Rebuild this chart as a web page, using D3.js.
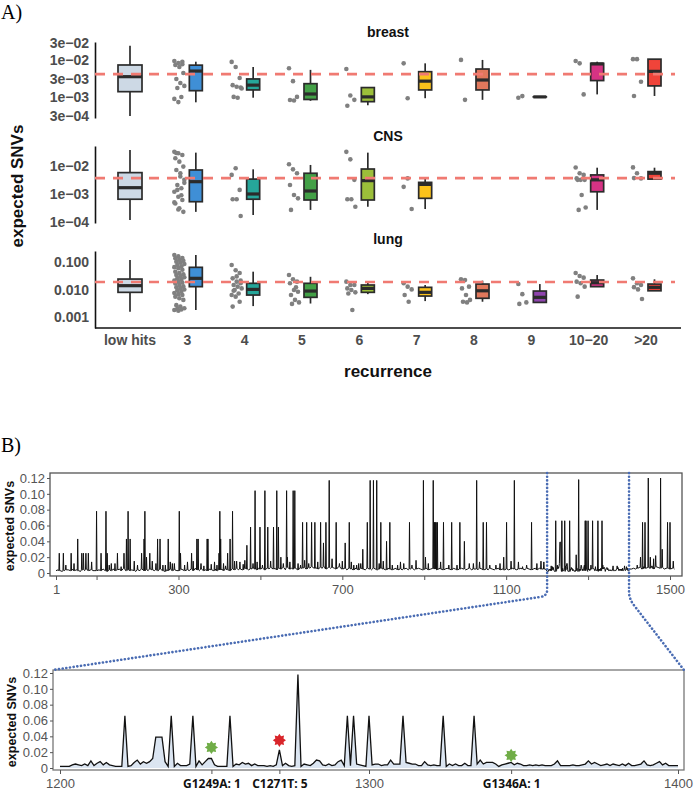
<!DOCTYPE html>
<html>
<head>
<meta charset="utf-8">
<script src="https://cdn.jsdelivr.net/npm/d3@7"></script>
<style>
body{margin:0;background:#fff}
svg{display:block}
</style>
</head>
<body>
<script>
// ---------- panel A data ----------
const categories = ["low hits","3","4","5","6","7","8","9","10\u221220",">20"];
const catColors = ["#cdd9e5","#3f8fd6","#26a69a","#43a047","#9cbf3a","#fbc21b","#e0785c","#8e44ad","#d63384","#f0443a"];
const tissues = ["breast","CNS","lung"];
const thresholds = [0.0042, 0.0037, 0.0187];

// box stats: [lower whisker, q1, median, q3, upper whisker]
const breastBoxes = [
  [0.0003,0.00139,0.00358,0.00748,0.0253],
  [0.00071,0.00148,0.0051,0.0074,0.0092],
  [0.00095,0.00155,0.0021,0.0031,0.0066],
  [0.00078,0.00085,0.0012,0.0023,0.0055],
  [0.00059,0.00074,0.001,0.0018,0.0018],
  [0.00092,0.00155,0.0027,0.0049,0.0083],
  [0.00083,0.00155,0.0029,0.0058,0.0103],
  [0.001,0.001,0.001,0.001,0.001],
  [0.00117,0.0028,0.008,0.0083,0.0092],
  [0.00106,0.002,0.005,0.0108,0.0108]
];
const breastPts = [
  [],
  [0.0096,0.0085,0.0092,0.0075,0.0066,0.0045,0.0031,0.0024,0.002,0.00175,0.00099,0.00088,0.00072,0.0079],
  [0.0091,0.0066,0.0033,0.0021,0.0019,0.0018,0.001,0.00095,0.0017],
  [0.0061,0.0027,0.001,0.00082,0.0008],
  [0.0058,0.00109,0.00083,0.00057],
  [0.0083,0.00092],
  [0.0103,0.00083],
  [0.00095,0.00105],
  [0.0096,0.0083,0.00117],
  [0.0108,0.0108,0.0026,0.00106]
];
const cnsBoxes = [
  [0.000118,0.00065,0.00168,0.0058,0.037],
  [0.00023,0.00053,0.00275,0.0072,0.030],
  [0.000178,0.00065,0.001,0.0034,0.0076],
  [0.00027,0.00061,0.00128,0.0055,0.0109],
  [0.00035,0.00061,0.003,0.0078,0.030],
  [0.00029,0.0007,0.0022,0.0026,0.0036],
  null,
  null,
  [0.00027,0.0012,0.0032,0.0048,0.0087],
  [0.0034,0.0034,0.0055,0.0063,0.0087]
];
const cnsPts = [
  [],
  [0.032,0.0284,0.0247,0.0188,0.0143,0.0095,0.0072,0.0042,0.0032,0.0021,0.0016,0.0012,0.0008,0.00061,0.00046,0.00031,0.00023,0.029,0.0055,0.0025,0.0014,0.0009,0.0005,0.00028],
  [0.0048,0.0083,0.0014,0.00065,0.00065,0.000164],
  [0.0115,0.0076,0.0055,0.0021,0.00092,0.0007,0.00027],
  [0.032,0.0173,0.0032,0.00065,0.00065,0.00035],
  [0.0018,0.0036,0.00029],
  [],
  [],
  [0.0088,0.0055,0.0048,0.0036,0.0032,0.0032,0.0032,0.00092,0.00033,0.00027],
  [0.0089,0.0055,0.0036,0.0037]
];
const lungBoxes = [
  [0.00156,0.0079,0.0138,0.024,0.118],
  [0.0018,0.0127,0.0255,0.064,0.18],
  [0.0025,0.0063,0.0101,0.0168,0.0445],
  [0.0031,0.0052,0.0088,0.0168,0.029],
  [0.0068,0.0079,0.011,0.0146,0.0176],
  [0.0038,0.0058,0.0079,0.012,0.0146],
  [0.0036,0.0048,0.009,0.0158,0.021],
  [0.0034,0.0034,0.0052,0.0088,0.0158],
  [0.0127,0.0127,0.0176,0.0221,0.0336],
  [0.009,0.009,0.012,0.0158,0.0235]
];
const lungPts = [
  [],
  [0.18,0.16,0.14,0.136,0.12,0.11,0.103,0.095,0.085,0.078,0.07,0.065,0.059,0.052,0.0445,0.04,0.036,0.0336,0.03,0.028,0.0255,0.023,0.021,0.0193,0.018,0.0165,0.0146,0.013,0.012,0.011,0.01,0.0093,0.0083,0.0075,0.0068,0.0063,0.0055,0.0048,0.0042,0.0027,0.0024,0.0021,0.002,0.0019,0.0018,0.0017],
  [0.078,0.05,0.04,0.0255,0.0193,0.0168,0.0146,0.0127,0.011,0.0096,0.0072,0.0063,0.0055,0.0036,0.0024,0.03,0.021,0.009],
  [0.0336,0.0235,0.0193,0.0168,0.0096,0.0083,0.0063,0.0042,0.0034,0.003,0.012],
  [0.0193,0.0146,0.0146,0.011,0.0096,0.0079,0.0072,0.0018],
  [0.0168,0.0127,0.0101,0.0063,0.0036],
  [0.0235,0.022,0.0127,0.011,0.0063,0.0042,0.0036,0.0034],
  [0.0158,0.0068,0.0034,0.003],
  [0.04,0.031,0.027,0.0193,0.0168,0.0127,0.0055],
  [0.0255,0.0168,0.0146,0.0122,0.0101,0.0045]
];
const breastTicks = [3e-4,1e-3,3e-3,1e-2,3e-2];
const cnsTicks = [1e-4,1e-3,1e-2];
const lungTicks = [0.001,0.01,0.1];

// ---------- panel B data ----------
// baseline level (x 0.001) sampled every 5 positions, 1..1199 and 1401..1515
const baseBefore = ("34323443534324353433" + "34353243534536343432" + "43534354343532435343" +
  "35434353643534354353" + "45354354645465456546" + "56465756465747565646" +
  "67576867576857676586" + "56465465465465465456" + "54654564545645645654" +
  "56456546545654654565" + "45645546545465456454" + "54565456546545646555").split("").map(Number);
const baseAfter = "55656758676958767566565".split("").map(Number);
// spikes and bumps outside the zoomed window: [position, value x 0.001]
const spikes = [[9,25],[19,25],[25,10],[38,25],[45,12],[54,43],[64,25],[68,25],[74,25],[80,25],[88,14],[100,78],[111,25],[123,78],[126,25],
  [131,10],[136,12],[145,12],[151,25],[160,8],[167,25],[173,43],[177,78],[182,43],[192,15],[200,10],[210,25],[216,43],[218,78],[222,20],
  [230,25],[236,15],[245,12],[249,43],[255,43],[262,10],[268,10],[275,43],[280,14],[285,12],[290,12],[302,78],[305,25],[315,10],[322,14],
  [332,25],[336,15],[345,43],[348,43],[355,12],[362,9],[370,43],[372,43],[380,11],[388,14],[394,10],[399,25],[401,78],[403,43],
  [410,12],[415,9],[420,25],[426,43],[432,78],[437,15],[442,15],[450,14],[458,11],[462,16],[467,35],[476,58],[482,12],
  [487,104],[492,14],[499,58],[505,10],[511,104],[518,58],[525,15],[532,58],[540,104],[544,58],[550,20],[556,12],[564,104],[566,20],
  [572,14],[580,104],[584,104],[592,12],[598,10],[603,64],[608,16],[613,64],[618,12],[625,64],[633,64],[640,14],[647,64],[654,38],
  [660,64],[668,117],[675,18],[685,64],[693,12],[700,15],[707,38],[717,64],[722,14],[728,10],[735,10],[740,12],[745,12],[750,30],
  [761,64],[768,117],[776,117],[784,117],[790,12],[794,64],[800,15],[808,40],[816,64],[822,10],[835,10],[842,14],[850,12],[864,64],
  [870,10],[880,16],[898,117],[903,20],[910,12],[922,117],[925,64],[927,64],[929,64],[932,64],[940,14],[947,64],[960,10],[967,64],
  [980,10],[987,64],[998,40],[1010,12],[1020,12],[1028,117],[1035,14],[1044,64],[1052,64],[1060,10],[1075,10],[1085,12],[1094,20],
  [1101,64],[1112,15],[1120,117],[1130,14],[1140,8],[1150,10],[1162,64],[1175,12],[1185,15],[1192,14],
  [1420,10],[1428,20],[1433,64],[1439,64],[1447,120],[1452,20],[1460,18],[1465,22],[1477,120],[1481,30],[1494,64],[1500,64],[1508,15]];
// zoomed window 1200..1400, one value per position (x 0.001)
const detailStart = 1200;
const detailVals = [2,2,2,2,4,5,4,3,5,3,9,3,6,8,4,7,4,3,2,2,2,66,2,3,7,10,5,8,6,8,
  12,39,39,39,8,2,66,2,6,3,3,3,5,66,2,9,4,8,12,12,4,2,2,2,2,66,2,5,4,7,
  5,6,3,5,3,3,3,2,3,2,4,23,3,6,3,2,3,118,2,5,4,3,6,10,9,4,3,5,3,4,
  8,10,3,66,3,66,5,4,3,2,66,4,5,5,3,4,4,10,5,5,5,66,7,6,5,5,3,3,8,4,
  3,4,3,3,66,2,5,3,5,3,3,6,3,3,66,5,10,5,7,7,7,5,2,4,5,6,7,4,6,5,
  3,3,4,3,4,3,4,3,3,3,5,9,3,3,3,3,4,3,3,4,5,9,5,7,5,3,4,5,3,5,
  4,3,5,3,6,3,3,4,5,9,4,3,4,6,8,4,6,3,3,3,3];
const snvTicks = [0,0.02,0.04,0.06,0.08,0.10,0.12];
const topTicks = [1,100,300,500,700,900,1100,1300,1500];
const topLabels = [1,300,700,1100,1500];
const zoomRange = [1200,1400];
const botTicks = [1200,1249,1271,1300,1346,1400];
const botTickLabels = ["1200","G1249A: 1","C1271T: 5","1300","G1346A: 1","1400"];
const mutPos = [1249,1271,1346];
const mutVal = [0.026,0.035,0.016];
const mutColor = ["#70ad47","#d9252a","#70ad47"];

// ---------- drawing ----------
const font = "'Liberation Sans', Arial, Helvetica, sans-serif";
const svg = d3.select("body").append("svg").attr("width", 694).attr("height", 792);

svg.append("text").attr("x", 1).attr("y", 19).text("A)")
  .style("font-family", "'Liberation Serif', 'DejaVu Serif', serif").style("font-size", "20px");
svg.append("text").attr("x", 1).attr("y", 452).text("B)")
  .style("font-family", "'Liberation Serif', 'DejaVu Serif', serif").style("font-size", "20px");

const xCat = d3.scalePoint().domain(categories).range([130, 646]);
const axX = 95, axRight = 681;

function sciFmt(d){
  let e = Math.floor(Math.log10(d) + 1e-9);
  let m = Math.round(d / Math.pow(10, e));
  return m + "e\u2212" + String(-e).padStart(2, "0");
}

let panels = [
  {name:"breast", domain:[2.64e-4,0.0319], range:[118,42], ticks:breastTicks, fmt:sciFmt, boxes:breastBoxes, pts:breastPts, titleY:37},
  {name:"CNS", domain:[9.2e-5,0.0518], range:[223,146], ticks:cnsTicks, fmt:sciFmt, boxes:cnsBoxes, pts:cnsPts, titleY:141},
  {name:"lung", domain:[4e-4,0.251], range:[328,251], ticks:lungTicks, fmt:d3.format(".3f"), boxes:lungBoxes, pts:lungPts, titleY:244}
];

panels.forEach((p, pi) => {
  let y = d3.scaleLog().domain(p.domain).range(p.range);
  let g = svg.append("g");

  g.append("text").attr("x", (axX + axRight) / 2).attr("y", p.titleY).attr("text-anchor", "middle")
    .text(tissues[pi]).style("font", "bold 14px " + font).attr("fill", "#111");

  let ax = g.append("g").attr("transform", "translate(" + axX + ",0)")
    .call(d3.axisLeft(y).tickValues(p.ticks).tickSize(0).tickPadding(6).tickFormat(p.fmt));
  ax.select(".domain").attr("stroke", "#111").attr("stroke-width", 1.6);
  ax.selectAll("text").attr("fill", "#4d4d4d").style("font", "bold 14px " + font);

  categories.forEach((c, i) => {
    let cx = xCat(c);
    // jittered points
    p.pts[i].forEach((v, j) => {
      let dx = ((j * 37) % 11) - 5;
      g.append("circle").attr("cx", cx - 8 + dx).attr("cy", y(v)).attr("r", 2.3).attr("fill", "#808080");
    });
    let b = p.boxes[i];
    if (!b) return;
    let bw = i === 0 ? 24 : 13;
    let bc = i === 0 ? cx : cx + 8.5;
    g.append("line").attr("x1", bc).attr("x2", bc).attr("y1", y(b[0])).attr("y2", y(b[4]))
      .attr("stroke", "#2b2b2b").attr("stroke-width", 1.7);
    g.append("rect").attr("x", bc - bw / 2).attr("width", bw)
      .attr("y", y(b[3])).attr("height", Math.max(0.01, y(b[1]) - y(b[3])))
      .attr("fill", catColors[i]).attr("stroke", "#2b2b2b").attr("stroke-width", 1.7);
    g.append("line").attr("x1", bc - bw / 2).attr("x2", bc + bw / 2).attr("y1", y(b[2])).attr("y2", y(b[2]))
      .attr("stroke", "#2b2b2b").attr("stroke-width", 3.2);
  });

  g.append("line").attr("x1", axX).attr("x2", 675).attr("y1", y(thresholds[pi])).attr("y2", y(thresholds[pi]))
    .attr("stroke", "#f07a72").attr("stroke-width", 2.6).attr("stroke-dasharray", "10,8");

  if (pi === 2) {
    g.append("line").attr("x1", axX).attr("x2", axRight).attr("y1", 328).attr("y2", 328)
      .attr("stroke", "#111").attr("stroke-width", 1.6);
    categories.forEach(c => {
      g.append("text").attr("x", xCat(c)).attr("y", 345).attr("text-anchor", "middle")
        .text(c).attr("fill", "#4d4d4d").style("font", "bold 14px " + font);
    });
  }
});

svg.append("text").attr("x", (axX + axRight) / 2).attr("y", 377).attr("text-anchor", "middle")
  .text("recurrence").style("font", "bold 17px " + font).attr("fill", "#111");
svg.append("text").attr("transform", "translate(23,186) rotate(-90)").attr("text-anchor", "middle")
  .text("expected SNVs").style("font", "bold 17px " + font).attr("fill", "#111");

// ---------- panel B ----------
function styleY(g){
  g.select(".domain").remove();
  g.selectAll("line").attr("stroke", "#555");
  g.selectAll("text").attr("fill", "#555").style("font", "13px " + font);
}
let fmtSnv = d => d === 0 ? "0" : d3.format(".2f")(d);

// top overview
let xTop = d3.scaleLinear().domain([1, 1500]).range([56, 670]);
let yTop = d3.scaleLinear().domain([0, 0.12]).range([573, 478]);

let series = new Map();
baseBefore.forEach((v, i) => series.set(1 + i * 5, v * 0.001));
baseAfter.forEach((v, i) => series.set(1401 + i * 5, v * 0.001));
spikes.forEach(s => {
  let k = s[0] < 1200 ? Math.min(baseBefore.length - 1, Math.round((s[0] - 1) / 5)) : Math.min(baseAfter.length - 1, Math.round((s[0] - 1401) / 5));
  let b = (s[0] < 1200 ? baseBefore[k] : baseAfter[k]) * 0.001;
  [s[0] - 1, s[0] + 1].forEach(q => { if (!series.has(q)) series.set(q, b); });
});
spikes.forEach(s => series.set(s[0], s[1] * 0.001));
detailVals.forEach((v, i) => series.set(detailStart + i, v * 0.001));
let topData = Array.from(series.entries()).sort((a, b) => a[0] - b[0]);

let gt = svg.append("g");
gt.append("path").datum(topData)
  .attr("d", d3.line().x(d => xTop(d[0])).y(d => yTop(d[1])))
  .attr("fill", "none").attr("stroke", "#111").attr("stroke-width", 1);
gt.append("rect").attr("x", 50).attr("y", 473).attr("width", 632).attr("height", 103)
  .attr("fill", "none").attr("stroke", "#555").attr("stroke-width", 1.3);
gt.append("g").attr("transform", "translate(50,0)")
  .call(d3.axisLeft(yTop).tickValues(snvTicks).tickSize(3).tickPadding(2).tickFormat(fmtSnv)).call(styleY);
gt.append("g").attr("transform", "translate(0,576)")
  .call(d3.axisBottom(xTop).tickValues(topTicks).tickSize(4).tickPadding(5)
    .tickFormat(d => topLabels.includes(d) ? d : "")).call(styleY);
svg.append("text").attr("transform", "translate(14,526) rotate(-90)").attr("text-anchor", "middle")
  .text("expected SNVs").style("font", "bold 12.5px " + font).attr("fill", "#111");

// zoomed window
let xBot = d3.scaleLinear().domain(zoomRange).range([60, 678]);
let yBot = d3.scaleLinear().domain([0, 0.12]).range([768, 673]);
let botData = detailVals.map((v, i) => [detailStart + i, v * 0.001]);

let gb = svg.append("g");
gb.append("path").datum(botData)
  .attr("d", d3.area().x(d => xBot(d[0])).y0(yBot(0)).y1(d => yBot(d[1])))
  .attr("fill", "#dbe5f1");
gb.append("path").datum(botData)
  .attr("d", d3.line().x(d => xBot(d[0])).y(d => yBot(d[1])))
  .attr("fill", "none").attr("stroke", "#111").attr("stroke-width", 1.3);
gb.append("rect").attr("x", 53).attr("y", 670).attr("width", 631).attr("height", 100)
  .attr("fill", "none").attr("stroke", "#777").attr("stroke-width", 1.3);
gb.append("g").attr("transform", "translate(53,0)")
  .call(d3.axisLeft(yBot).tickValues(snvTicks).tickSize(3).tickPadding(2).tickFormat(fmtSnv)).call(styleY);
let bax = gb.append("g").attr("transform", "translate(0,770)")
  .call(d3.axisBottom(xBot).tickValues(botTicks).tickSize(4).tickPadding(5).tickFormat((d, i) => botTickLabels[i])).call(styleY);
bax.selectAll("text").filter(d => mutPos.includes(d))
  .attr("fill", "#111").style("font", "bold 12px 'Open Sans', " + font);
svg.append("text").attr("transform", "translate(16,722) rotate(-90)").attr("text-anchor", "middle")
  .text("expected SNVs").style("font", "bold 12.5px " + font).attr("fill", "#111");

// star markers
let starPts = d3.range(16).map(k => {
  let a = k * Math.PI / 8 - Math.PI / 2, r = k % 2 ? 4.4 : 6.6;
  return [r * Math.cos(a), r * Math.sin(a)];
});
mutPos.forEach((m, i) => {
  gb.append("path").attr("d", "M" + starPts.join("L") + "Z")
    .attr("transform", "translate(" + xBot(m) + "," + yBot(mutVal[i]) + ")")
    .attr("fill", mutColor[i]);
});

// dotted connectors
let lx = xTop(zoomRange[0]), rx = xTop(zoomRange[1]);
svg.append("path")
  .attr("d", "M" + lx + ",473 V590 Q" + lx + ",596 " + (lx - 7) + ",597 L53,670")
  .attr("fill", "none").attr("stroke", "#4a6cb3").attr("stroke-width", 2.6)
  .attr("stroke-dasharray", "0.1,3.6").attr("stroke-linecap", "round");
svg.append("path")
  .attr("d", "M" + rx + ",473 V592 Q" + rx + ",598 " + (rx + 4) + ",604 L684,670")
  .attr("fill", "none").attr("stroke", "#4a6cb3").attr("stroke-width", 2.6)
  .attr("stroke-dasharray", "0.1,3.6").attr("stroke-linecap", "round");
</script>
</body>
</html>
